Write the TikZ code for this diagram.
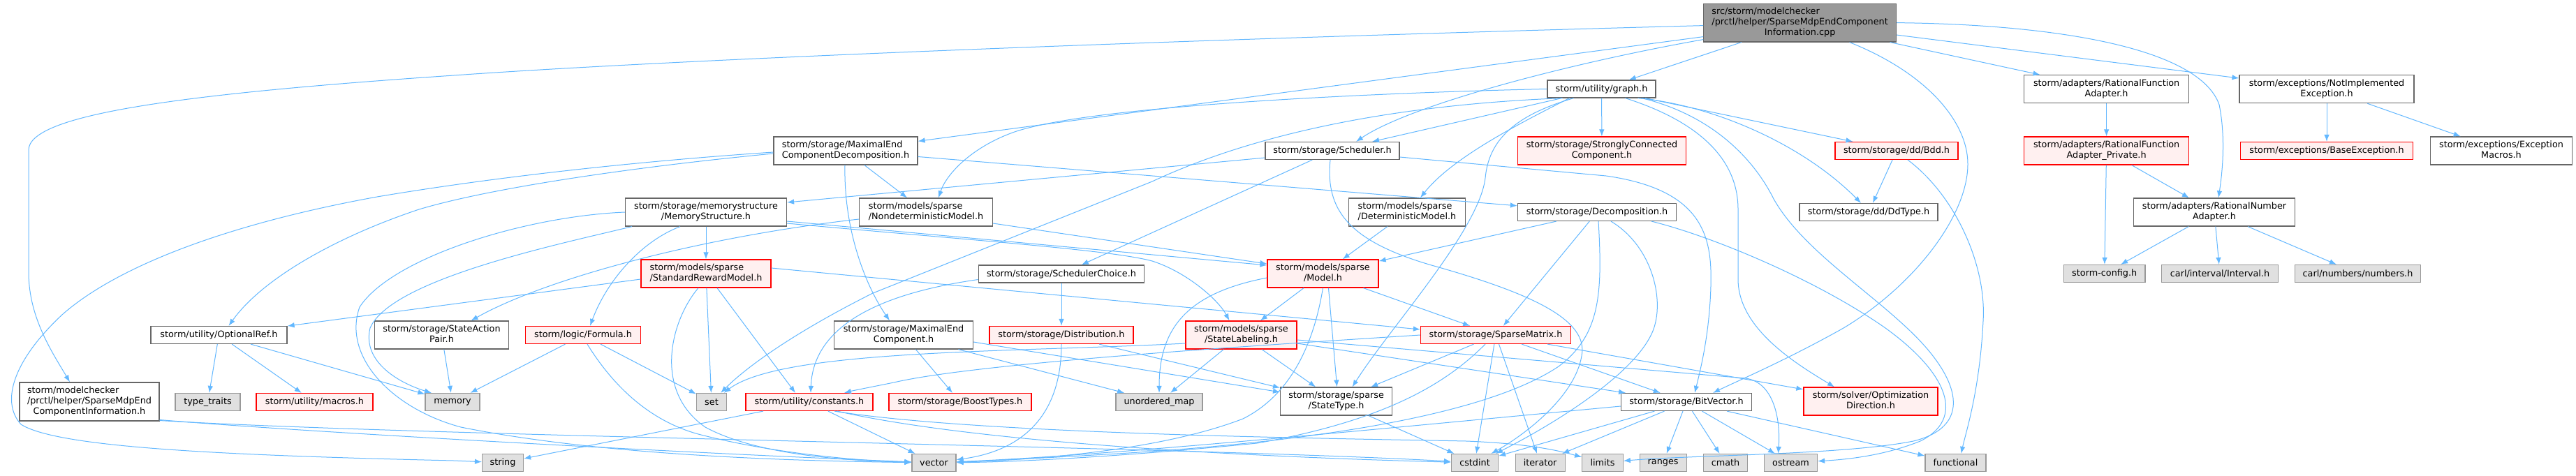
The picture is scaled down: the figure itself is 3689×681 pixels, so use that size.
\documentclass[tikz,border=0pt]{standalone}
\usepackage{fontspec}
\setmainfont{DejaVu Sans}
\usetikzlibrary{arrows.meta}
\definecolor{edgec}{HTML}{63B8FF}
\definecolor{nbord}{HTML}{666666}
\definecolor{gbord}{HTML}{999999}
\definecolor{gfill}{HTML}{E0E0E0}
\definecolor{rfill}{HTML}{FFF0F0}
\definecolor{rbord}{HTML}{FF0000}
\definecolor{cfill}{HTML}{999999}
\newcommand{\nodefont}{\fontsize{12.8pt}{14.8pt}\selectfont}
\newcommand{\lbltwo}[2]{\begin{tabular}{@{}l@{}}#1\\\multicolumn{1}{@{}c@{}}{#2}\end{tabular}}
\newcommand{\lblthree}[3]{\begin{tabular}{@{}l@{}}#1\\#2\\\multicolumn{1}{@{}c@{}}{#3}\end{tabular}}
\tikzset{
  base/.style={rectangle, inner sep=0pt, line width=1.2pt, font=\nodefont, text=black},
  sz/.style 2 args={minimum width=#1pt, minimum height=#2pt},
  nrm/.style={base, draw=nbord, fill=white},
  trunc/.style={base, draw=rbord, fill=rfill},
  ext/.style={base, draw=gbord, fill=gfill},
  root/.style={base, draw=nbord, fill=cfill},
  ln/.style={draw=edgec, line width=1pt, -{Latex[length=10pt,width=7.5pt]}},
}
\begin{document}
\begin{tikzpicture}[x=1pt,y=-1pt]
\fill[white] (0,0) rectangle (3689,681);
\useasboundingbox (0,0) rectangle (3689,681);

% ---------- nodes ----------
\node[root,sz={275.7}{54.7}] (cpp) at (2577.6,32.6) {\lblthree{src/storm/modelchecker}{/prctl/helper/SparseMdpEndComponent}{Information.cpp}};
\node[nrm,sz={155}{25}] (graph) at (2293.5,127.5) {storm/utility/graph.h};
\node[nrm,sz={235.6}{40}] (rfa) at (3016.6,127.7) {\lbltwo{storm/adapters/RationalFunction}{Adapter.h}};
\node[nrm,sz={250}{40}] (notimpl) at (3332,127.7) {\lbltwo{storm/exceptions/NotImplemented}{Exception.h}};

\node[nrm,sz={206}{40}] (mecd) at (1211,216) {\lbltwo{storm/storage/MaximalEnd}{ComponentDecomposition.h}};
\node[nrm,sz={192}{25}] (sched) at (1908,216) {storm/storage/Scheduler.h};
\node[trunc,sz={240.5}{40}] (scc) at (2294,216) {\lbltwo{storm/storage/StronglyConnected}{Component.h}};
\node[trunc,sz={176}{25}] (bdd) at (2716,216) {storm/storage/dd/Bdd.h};
\node[trunc,sz={235.6}{40}] (rfap) at (3016.6,216) {\lbltwo{storm/adapters/RationalFunction}{Adapter\_Private.h}};
\node[trunc,sz={247.5}{25}] (baseexc) at (3332,216) {storm/exceptions/BaseException.h};
\node[nrm,sz={203}{40}] (excmac) at (3582,216) {\lbltwo{storm/exceptions/Exception}{Macros.h}};

\node[nrm,sz={231}{40}] (memst) at (1011,304) {\lbltwo{storm/storage/memorystructure}{/MemoryStructure.h}};
\node[nrm,sz={191}{40}] (ndm) at (1326,304) {\lbltwo{storm/models/sparse}{/NondeterministicModel.h}};
\node[nrm,sz={167}{40}] (dm) at (2015,304) {\lbltwo{storm/models/sparse}{/DeterministicModel.h}};
\node[nrm,sz={227}{25}] (decomp) at (2287,304) {storm/storage/Decomposition.h};
\node[nrm,sz={198}{25}] (ddtype) at (2676,304) {storm/storage/dd/DdType.h};
\node[nrm,sz={231.4}{40}] (rna) at (3171,304) {\lbltwo{storm/adapters/RationalNumber}{Adapter.h}};

\node[trunc,sz={186}{40}] (srm) at (1011,392) {\lbltwo{storm/models/sparse}{/StandardRewardModel.h}};
\node[nrm,sz={237.5}{25}] (schch) at (1520,392.5) {storm/storage/SchedulerChoice.h};
\node[trunc,sz={159}{40}] (model) at (1894.5,392) {\lbltwo{storm/models/sparse}{/Model.h}};
\node[ext,sz={116.4}{25}] (cfg) at (3013.7,392) {storm-config.h};
\node[ext,sz={167}{25}] (interval) at (3179,392) {carl/interval/Interval.h};
\node[ext,sz={180}{25}] (numbers) at (3376.5,392) {carl/numbers/numbers.h};

\node[nrm,sz={195}{25}] (optref) at (313.5,480) {storm/utility/OptionalRef.h};
\node[nrm,sz={192}{40}] (sap) at (632.5,480) {\lbltwo{storm/storage/StateAction}{Pair.h}};
\node[trunc,sz={165}{25}] (formula) at (835,480) {storm/logic/Formula.h};
\node[nrm,sz={199}{40}] (mec) at (1294,480) {\lbltwo{storm/storage/MaximalEnd}{Component.h}};
\node[trunc,sz={206}{25}] (distr) at (1520,480) {storm/storage/Distribution.h};
\node[trunc,sz={159}{40}] (sl) at (1777.5,480) {\lbltwo{storm/models/sparse}{/StateLabeling.h}};
\node[trunc,sz={215}{25}] (sm) at (2142,480) {storm/storage/SparseMatrix.h};

\node[nrm,sz={200}{55}] (mcinfo) at (128,575.5) {\lblthree{storm/modelchecker}{/prctl/helper/SparseMdpEnd}{ComponentInformation.h}};
\node[ext,sz={93}{25}] (tt) at (297.5,576) {type\_traits};
\node[trunc,sz={167}{25}] (macros) at (450.5,576) {storm/utility/macros.h};
\node[ext,sz={78}{25}] (memory) at (648,576) {memory};
\node[ext,sz={43}{25}] (set) at (1019,576) {set};
\node[trunc,sz={182}{25}] (const) at (1159,576) {storm/utility/constants.h};
\node[trunc,sz={204}{25}] (boost) at (1375,576) {storm/storage/BoostTypes.h};
\node[ext,sz={124}{25}] (umap) at (1660,576) {unordered\_map};
\node[nrm,sz={160}{40}] (stype) at (1913.6,575) {\lbltwo{storm/storage/sparse}{/StateType.h}};
\node[nrm,sz={187}{25}] (bv) at (2415,576) {storm/storage/BitVector.h};
\node[trunc,sz={192}{40}] (optdir) at (2679,575) {\lbltwo{storm/solver/Optimization}{Direction.h}};

\node[ext,sz={59}{25}] (string) at (720,663) {string};
\node[ext,sz={63}{25}] (vector) at (1337.5,663) {vector};
\node[ext,sz={67}{25}] (cstdint) at (2112,663) {cstdint};
\node[ext,sz={71}{25}] (iterator) at (2205.6,663) {iterator};
\node[ext,sz={58.5}{25}] (limits) at (2295,663) {limits};
\node[ext,sz={67}{25}] (ranges) at (2381.6,663) {ranges};
\node[ext,sz={62.6}{25}] (cmath) at (2471,663) {cmath};
\node[ext,sz={76}{25}] (ostream) at (2564.5,663) {ostream};
\node[ext,sz={87}{25}] (functional) at (2800.5,663) {functional};

% ---------- edges ----------
% cpp
\draw[ln] ([yshift=-4pt]cpp.west) .. controls (1500,62) and (900,90) .. (650,108) .. controls (250,135) and (41,165) .. (41,215) -- (41,390) .. controls (41,455) and (75,505) .. ([xshift=-28pt]mcinfo.north);
\draw[ln] ([yshift=-20pt]cpp.west) -- (mecd);
\draw[ln] ([yshift=-24pt]cpp.west) .. controls (2250,90) and (2020,150) .. ([xshift=34pt]sched.north);
\draw[ln] (cpp) -- (graph);
\draw[ln] ([xshift=71pt]cpp.south) .. controls (2760,105) and (2818,175) .. (2818,235) .. controls (2818,310) and (2740,410) .. (2640,470) .. controls (2560,515) and (2490,545) .. ([xshift=38pt]bv.north);
\draw[ln] (cpp) -- (rfa);
\draw[ln] (cpp) -- (notimpl);
\draw[ln] (cpp.east) .. controls (2950,35) and (3150,70) .. (3178,150) .. controls (3188,200) and (3182,250) .. ([xshift=6pt]rna.north);

% graph
\draw[ln] (graph) -- (sched);
\draw[ln] (graph) -- (scc);
\draw[ln] (graph.west) .. controls (2000,132) and (1560,150) .. (1450,190) .. controls (1390,212) and (1355,250) .. ([xshift=18pt]ndm.north);
\draw[ln] ([xshift=-56pt]graph.south) .. controls (2000,150) and (1800,190) .. (1650,260) -- (1250,420) .. controls (1150,470) and (1075,520) .. (set);
\draw[ln] ([xshift=-46pt]graph.south) .. controls (2180,175) and (2080,225) .. ([xshift=19pt]dm.north);
\draw[ln] ([xshift=-40pt]graph.south) .. controls (2170,165) and (2132,200) .. (2127,255) .. controls (2118,330) and (1990,470) .. ([xshift=23pt]stype.north);
\draw[ln] (graph) -- (bdd);
\draw[ln] ([xshift=52pt]graph.south) .. controls (2450,150) and (2580,205) .. ([xshift=-11pt]ddtype.north);
\draw[ln] ([xshift=34pt]graph.south) .. controls (2420,170) and (2489,220) .. (2489,300) -- (2489,400) .. controls (2489,470) and (2570,520) .. ([xshift=-52pt]optdir.north);
\draw[ln] ([xshift=58pt]graph.south) .. controls (2450,165) and (2510,225) .. (2540,285) .. controls (2585,365) and (2700,430) .. (2760,500) .. controls (2815,565) and (2810,615) .. (2740,632) .. controls (2640,652) and (2420,652) .. (limits);

% mecd
\draw[ln] (mecd) -- (decomp);
\draw[ln] (mecd) -- (ndm);
\draw[ln] ([xshift=-1pt]mecd.south) .. controls (1208,330) and (1240,410) .. ([xshift=-20pt]mec.north);
\draw[ln] ([yshift=-4pt]mecd.west) .. controls (900,240) and (700,270) .. (600,300) .. controls (480,340) and (375,400) .. ([xshift=14pt]optref.north);
\draw[ln] ([yshift=-2pt]mecd.west) .. controls (900,232) and (700,255) .. (540,282) .. controls (330,320) and (170,380) .. (90,450) .. controls (20,515) and (0,575) .. (30,608) .. controls (80,640) and (300,652) .. (650,660) -- (string);

% memst
\draw[ln] ([yshift=-13pt]memst.east) -- ([yshift=12pt]model.west);
\draw[ln] ([yshift=-16pt]memst.east) .. controls (1400,345) and (1590,358) .. (1650,374) .. controls (1700,390) and (1745,430) .. ([xshift=-17pt]sl.north);
\draw[ln] (memst) -- (srm);
\draw[ln] ([xshift=-37pt]memst.south) .. controls (920,345) and (870,400) .. ([xshift=10pt]formula.north);
\draw[ln] ([xshift=-106pt]memst.south) .. controls (800,350) and (560,400) .. (530,470) .. controls (518,520) and (575,550) .. ([xshift=-30pt]memory.north);
\draw[ln] (memst.west) .. controls (750,310) and (560,370) .. (515,440) .. controls (490,510) and (560,585) .. (660,612) .. controls (850,650) and (1100,660) .. (vector);

% ndm
\draw[ln] ([yshift=-16pt]ndm.east) -- ([yshift=14pt]model.west);
\draw[ln] ([yshift=-10pt]ndm.west) .. controls (1000,340) and (780,400) .. ([xshift=42pt]sap.north);

% srm
\draw[ln] ([yshift=-8pt]srm.west) -- (optref);
\draw[ln] ([yshift=8pt]srm.east) -- ([yshift=8pt]sm.west);
\draw[ln] (srm) -- (set);
\draw[ln] ([xshift=16pt]srm.south) -- ([xshift=-20pt]const.north);
\draw[ln] ([xshift=-11pt]srm.south) .. controls (960,460) and (935,560) .. (1010,612) .. controls (1080,650) and (1200,660) .. (vector);

% formula
\draw[ln] (formula) -- (memory);
\draw[ln] (formula) -- (set);
\draw[ln] ([xshift=6pt]formula.south) .. controls (870,540) and (920,600) .. (1000,622) .. controls (1100,648) and (1220,660) .. (vector);

% optref, sap
\draw[ln] (optref) -- (tt);
\draw[ln] (optref) -- (macros);
\draw[ln] (optref) -- (memory);
\draw[ln] (sap) -- (memory);

% mec
\draw[ln] (mec) -- (boost);
\draw[ln] (mec) -- (umap);
\draw[ln] ([yshift=-10pt]mec.east) -- (stype);

% distr, schch
\draw[ln] (distr.south) .. controls (1520,590) and (1470,645) .. (vector);
\draw[ln] (distr) -- (stype);
\draw[ln] (schch) -- (distr);
\draw[ln] ([yshift=-8pt]schch.west) .. controls (1300,415) and (1165,450) .. ([xshift=2pt]const.north);

% sched
\draw[ln] ([yshift=-10pt]sched.west) -- ([yshift=14pt]memst.east);
\draw[ln] (sched) -- (schch);
\draw[ln] ([yshift=-9pt]sched.east) -- (2300,252) .. controls (2440,272) and (2452,340) .. (2450,410) .. controls (2448,480) and (2435,530) .. ([xshift=12pt]bv.north);
\draw[ln] ([xshift=-3pt]sched.south) .. controls (1898,300) and (1930,345) .. (2050,380) .. controls (2200,422) and (2275,460) .. (2265,510) .. controls (2255,570) and (2180,625) .. (cstdint);

% dm, decomp
\draw[ln] (dm) -- (model);
\draw[ln] (decomp) -- (model);
\draw[ln] (decomp) -- (sm);
\draw[ln] ([xshift=20pt]decomp.south) .. controls (2362,350) and (2382,420) .. (2370,465) .. controls (2355,525) and (2240,600) .. ([xshift=30pt]cstdint.north);
\draw[ln] ([xshift=2pt]decomp.south) .. controls (2295,420) and (2292,480) .. (2232,525) .. controls (2120,600) and (1850,635) .. (1600,650) .. controls (1500,656) and (1420,660) .. (vector);
\draw[ln] ([xshift=78pt]decomp.south) .. controls (2450,338) and (2600,400) .. (2700,470) .. controls (2790,535) and (2815,600) .. (2750,632) .. controls (2700,652) and (2650,658) .. (ostream);

% model
\draw[ln] (model) -- (sl);
\draw[ln] ([yshift=-6pt]model.west) .. controls (1700,420) and (1660,470) .. (umap);
\draw[ln] ([xshift=8pt]model.south) -- ([xshift=1pt]stype.north);
\draw[ln] (model.south) .. controls (1885,470) and (1860,560) .. (1780,600) .. controls (1650,650) and (1450,660) .. (vector);
\draw[ln] (model) -- (sm);

% sl
\draw[ln] (sl) -- (umap);
\draw[ln] (sl) -- (stype);
\draw[ln] ([yshift=-12pt]sl.west) .. controls (1450,505) and (1120,500) .. (set);
\draw[ln] ([yshift=-12pt]sl.east) -- (bv);
\draw[ln] ([yshift=-7pt]sl.east) -- (2500,542) .. controls (2540,548) and (2550,600) .. ([xshift=-18pt]ostream.north);

% sm
\draw[ln] (sm) -- (stype);
\draw[ln] (sm.west) .. controls (1800,495) and (1400,520) .. (1280,548) .. controls (1240,556) and (1220,560) .. (const);
\draw[ln] ([xshift=-15pt]sm.south) .. controls (2080,540) and (2000,600) .. (1800,635) .. controls (1600,655) and (1450,662) .. (vector);
\draw[ln] (sm) -- (cstdint);
\draw[ln] (sm) -- (iterator);
\draw[ln] (sm) -- (bv);
\draw[ln] (sm) -- (optdir);

% stype
\draw[ln] (stype) -- (cstdint);

% bv
\draw[ln] ([yshift=-6pt]bv.west) .. controls (2000,612) and (1600,652) .. (vector);
\draw[ln] (bv) -- (cstdint);
\draw[ln] (bv) -- (iterator);
\draw[ln] (bv) -- (ranges);
\draw[ln] (bv) -- (cmath);
\draw[ln] (bv) -- (ostream);
\draw[ln] (bv) -- (functional);

% bdd
\draw[ln] (bdd) -- (ddtype);
\draw[ln] ([xshift=16pt]bdd.south) .. controls (2800,280) and (2845,380) .. (2840,460) .. controls (2835,560) and (2815,620) .. ([xshift=8pt]functional.north);

% adapters, exceptions
\draw[ln] (rfa) -- (rfap);
\draw[ln] (rfap) -- (cfg);
\draw[ln] (rfap) -- (rna);
\draw[ln] (rna) -- (cfg);
\draw[ln] (rna) -- (interval);
\draw[ln] (rna) -- (numbers);
\draw[ln] (notimpl) -- (baseexc);
\draw[ln] (notimpl) -- (excmac);

% mcinfo
\draw[ln] ([yshift=-26pt]mcinfo.east) .. controls (450,620) and (1000,650) .. (vector);
\draw[ln] ([yshift=-27pt]mcinfo.east) .. controls (600,625) and (1700,640) .. (cstdint);

% constants
\draw[ln] (const) -- (string);
\draw[ln] (const) -- (vector);
\draw[ln] ([xshift=36pt]const.south) .. controls (1400,622) and (1900,628) .. (2100,632) .. controls (2200,636) and (2240,648) .. (limits);
\draw[ln] ([xshift=40pt]const.south) .. controls (1400,635) and (1800,655) .. (cstdint);
\end{tikzpicture}
\end{document}
